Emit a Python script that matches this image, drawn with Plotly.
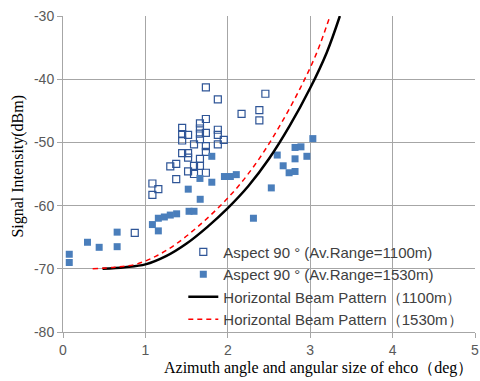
import plotly.graph_objects as go

# Aspect 90 deg, Av.Range=1100m (open squares)
x_1100 = [1.734, 1.879, 2.456, 2.167, 2.383, 2.383, 1.734, 1.446, 1.662, 1.662,
          1.879, 1.446, 1.518, 1.662, 1.734, 1.879, 1.951, 1.446, 1.590, 1.662,
          1.734, 1.879, 1.446, 1.518, 1.518, 1.662, 1.734, 1.374, 1.302, 1.590,
          1.662, 1.518, 1.590, 1.734, 1.374, 1.085, 1.157, 1.085, 0.871]
y_1100 = [-41.3, -43.2, -42.3, -45.5, -44.9, -46.5, -46.3, -47.7, -47.0, -47.8,
          -48.0, -48.7, -48.8, -48.6, -48.5, -48.8, -49.6, -49.7, -50.3, -49.5,
          -50.6, -50.3, -51.7, -51.7, -52.4, -52.6, -51.5, -53.4, -53.8, -53.7,
          -53.7, -54.6, -55.0, -54.8, -55.8, -56.5, -57.4, -58.3, -64.3]

# Aspect 90 deg, Av.Range=1530m (filled squares)
x_1530 = [0.076, 0.076, 0.297, 0.439, 0.657, 0.657, 1.085, 1.157, 1.157, 1.230,
          1.302, 1.379, 1.530, 1.590, 1.665, 1.520, 1.662, 1.806, 1.806, 1.959,
          2.031, 2.103, 2.311, 2.528, 2.600, 2.672, 2.744, 2.816, 2.816, 2.816,
          2.888, 2.960, 3.032]
y_1530 = [-67.7, -69.0, -65.8, -66.6, -64.2, -66.5, -63.0, -64.0, -62.0, -61.8,
          -61.5, -61.3, -60.9, -60.9, -59.0, -57.4, -55.7, -56.3, -52.2, -55.4,
          -55.4, -55.1, -62.0, -57.2, -52.0, -53.7, -54.8, -54.6, -52.6, -50.8,
          -50.7, -52.2, -49.4]

# Horizontal beam pattern (1100m)
x_bp1100 = [0.48, 0.75, 1.00, 1.25, 1.50, 1.75, 2.00, 2.25, 2.50, 2.75, 3.00, 3.20, 3.36]
y_bp1100 = [-70.0, -69.75, -69.3, -68.0, -66.0, -63.4, -60.4, -56.9, -52.6, -47.4,
            -41.4, -35.8, -30.0]

# Horizontal beam pattern (1530m)
x_bp1530 = [0.36, 0.63, 0.88, 1.13, 1.38, 1.63, 1.88, 2.13, 2.38, 2.63, 2.88, 3.08, 3.24]
y_bp1530 = [-70.0, -69.75, -69.3, -68.0, -66.0, -63.4, -60.4, -56.9, -52.6, -47.4,
            -41.4, -35.8, -30.0]

x_ticks = [0, 1, 2, 3, 4, 5]
y_ticks = [-80, -70, -60, -50, -40, -30]

fig = go.Figure()
fig.add_trace(go.Scatter(
    x=x_1100, y=y_1100, mode="markers",
    name="Aspect 90 ° (Av.Range=1100m)",
    marker=dict(symbol="square-open", size=7, color="#2F5597", line=dict(width=1.2)),
))
fig.add_trace(go.Scatter(
    x=x_1530, y=y_1530, mode="markers",
    name="Aspect 90 ° (Av.Range=1530m)",
    marker=dict(symbol="square", size=7, color="#4A7EBB"),
))
fig.add_trace(go.Scatter(
    x=x_bp1100, y=y_bp1100, mode="lines",
    name="Horizontal Beam Pattern（1100m）",
    line=dict(color="black", width=2.5, shape="spline"),
))
fig.add_trace(go.Scatter(
    x=x_bp1530, y=y_bp1530, mode="lines",
    name="Horizontal Beam Pattern（1530m）",
    line=dict(color="#FF0000", width=1.5, dash="5px,4px", shape="spline"),
))

tick_font = dict(family="Liberation Sans, Arial, sans-serif", size=14, color="#595959")

fig.update_layout(
    width=480, height=381,
    margin=dict(l=63, r=1, t=16, b=49),
    paper_bgcolor="white", plot_bgcolor="white",
    showlegend=True,
    legend=dict(
        x=0.292, y=0.305, xanchor="left", yanchor="top",
        bgcolor="rgba(0,0,0,0)", borderwidth=0,
        font=dict(family="Liberation Sans, Arial, sans-serif", size=15, color="#404040"),
        tracegroupgap=0, itemwidth=30,
    ),
    xaxis=dict(
        range=[0, 5], tickvals=x_ticks, ticktext=[str(v) for v in x_ticks],
        showgrid=True, gridcolor="#A6A6A6", gridwidth=1,
        showline=True, linecolor="#A6A6A6", linewidth=1,
        ticks="outside", ticklen=5, tickcolor="#A6A6A6",
        tickfont=tick_font, ticklabeloverflow="allow",
        zeroline=False,
    ),
    yaxis=dict(
        range=[-80, -30], tickvals=y_ticks, ticktext=[str(v) for v in y_ticks],
        showgrid=True, gridcolor="#A6A6A6", gridwidth=1,
        showline=True, linecolor="#A6A6A6", linewidth=1,
        ticks="outside", ticklen=5, tickcolor="#A6A6A6",
        tickfont=tick_font,
        zeroline=False,
    ),
    annotations=[
        dict(text="Azimuth angle and angular size of ehco（deg）",
             xref="paper", yref="paper", x=1.0, y=-0.114, xanchor="right", yanchor="middle",
             showarrow=False,
             font=dict(family="Liberation Serif, Times New Roman, serif", size=16, color="#000000")),
        dict(text="Signal Intensity(dBm)",
             xref="paper", yref="paper", x=-0.108, y=0.525, xanchor="center", yanchor="middle",
             textangle=-90, showarrow=False,
             font=dict(family="Liberation Serif, Times New Roman, serif", size=16, color="#000000")),
    ],
)

fig.write_html("out.html")
